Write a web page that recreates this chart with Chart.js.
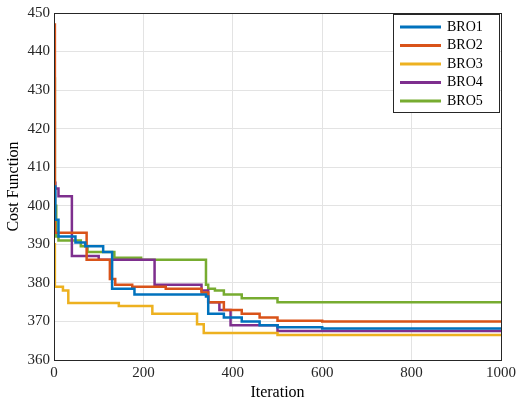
<!DOCTYPE html><html><head><script src="https://cdn.jsdelivr.net/npm/chart.js@4"></script>
<style>body{margin:0;background:#fff}#w{width:520px;height:406px}</style></head><body><div id="w"><canvas id="c"></canvas></div>
<script>
const labels=["BRO1","BRO2","BRO3","BRO4","BRO5"];
const colors=["#0072BD","#D95319","#EDB120","#7E2F8E","#77AC30"];
const bro1X=[0,3,10,48,70,110,130,180,340,345,380,420,460,500,600,1000];
const bro1Y=[405,396.4,392,390.5,389.5,388,378.5,377,376.5,372,371,370,369,368.5,368.2,368.2];
const bro2X=[0,2,73,125,137,175,250,330,345,380,420,460,500,600,1000];
const bro2Y=[447,393,386,381,379.5,379,378.5,377.5,375,373,372,371,370.2,370,370];
const bro3X=[0,2,20,32,145,220,320,335,500,1000];
const bro3Y=[390,379,378,374.8,374,372,369.3,367,366.5,366.3];
const bro4X=[0,3,10,40,100,225,330,345,370,395,500,1000];
const bro4Y=[406,404.5,402.5,387,386,379.5,378,375,373,369,367.5,367.2];
const bro5X=[0,2,5,10,60,75,135,195,340,345,360,380,420,500,1000];
const bro5Y=[433,400,392,391,389.5,388,386.5,386,379.5,378.5,378,377,376,375,374.8];
const xs=[bro1X,bro2X,bro3X,bro4X,bro5X], ys=[bro1Y,bro2Y,bro3Y,bro4Y,bro5Y];
const xTicks=[0,200,400,600,800,1000], yTicks=[360,370,380,390,400,410,420,430,440,450];
const F="'Liberation Serif','Times New Roman',serif";
const frame={id:'frame',afterDraw(ch){const a=ch.chartArea,c=ch.ctx;c.save();c.strokeStyle='#262626';c.lineWidth=1;c.strokeRect(a.left+.5,a.top+.5,a.right-a.left,a.bottom-a.top);
const bx=393,by=14,bw=106,bh=98;c.fillStyle='#fff';c.fillRect(bx,by,bw,bh);c.strokeStyle='#262626';c.strokeRect(bx+.5,by+.5,bw,bh);
c.font="14px "+F;c.textBaseline='middle';ch.data.datasets.forEach((d,i)=>{const y=by+13+i*18.5;c.strokeStyle=d.borderColor;c.lineWidth=3;c.beginPath();c.moveTo(400,y);c.lineTo(441,y);c.stroke();c.fillStyle='#000';c.fillText(d.label,447,y);});c.restore();}};
new Chart(document.getElementById('c'),{type:'line',data:{datasets:labels.map((l,i)=>({label:l,data:xs[i].map((x,j)=>({x,y:ys[i][j]})),borderColor:colors[i],backgroundColor:colors[i],borderWidth:2.5,pointRadius:0,stepped:'before'}))},
options:{animation:false,responsive:true,maintainAspectRatio:false,layout:{padding:{top:6,right:19}},
plugins:{legend:{display:false},tooltip:{enabled:false}},
scales:{x:{type:'linear',min:0,max:1000,afterBuildTicks:s=>{s.ticks=xTicks.map(v=>({value:v}))},afterFit:s=>{s.height=46},grid:{color:'#e3e3e3',drawTicks:false},border:{display:false},ticks:{color:'#262626',font:{family:F,size:15},padding:4,callback:v=>String(v)},title:{display:true,text:'Iteration',color:'#000',font:{family:F,size:16},padding:{top:0}}},
y:{min:360,max:450,afterBuildTicks:s=>{s.ticks=yTicks.map(v=>({value:v}))},afterFit:s=>{s.width=54},grid:{color:'#e3e3e3',drawTicks:false},border:{display:false},ticks:{color:'#262626',font:{family:F,size:15},padding:4},title:{display:true,text:'Cost Function',color:'#000',font:{family:F,size:16},padding:{bottom:0}}}}},plugins:[frame]});
</script></body></html>
